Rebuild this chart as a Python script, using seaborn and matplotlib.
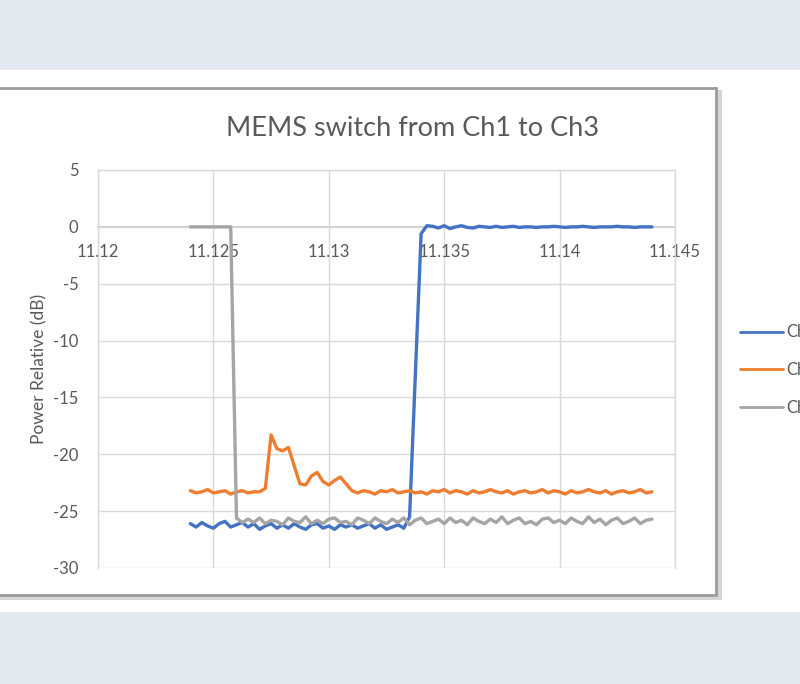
import numpy as np
import pandas as pd
import matplotlib
matplotlib.use("Agg")
import matplotlib.pyplot as plt
from matplotlib.patches import Rectangle
import seaborn as sns

# Time axis (shared by all three channels)
t = [
    11.12400, 11.12425, 11.12450, 11.12475, 11.12500, 11.12525, 11.12550, 11.12575, 11.12600, 11.12625,
    11.12650, 11.12675, 11.12700, 11.12725, 11.12750, 11.12775, 11.12800, 11.12825, 11.12850, 11.12875,
    11.12900, 11.12925, 11.12950, 11.12975, 11.13000, 11.13025, 11.13050, 11.13075, 11.13100, 11.13125,
    11.13150, 11.13175, 11.13200, 11.13225, 11.13250, 11.13275, 11.13300, 11.13325, 11.13350, 11.13375,
    11.13400, 11.13425, 11.13450, 11.13475, 11.13500, 11.13525, 11.13550, 11.13575, 11.13600, 11.13625,
    11.13650, 11.13675, 11.13700, 11.13725, 11.13750, 11.13775, 11.13800, 11.13825, 11.13850, 11.13875,
    11.13900, 11.13925, 11.13950, 11.13975, 11.14000, 11.14025, 11.14050, 11.14075, 11.14100, 11.14125,
    11.14150, 11.14175, 11.14200, 11.14225, 11.14250, 11.14275, 11.14300, 11.14325, 11.14350, 11.14375,
    11.14400,
]

# Ch1 - off, then switched on around 11.1337
ch1 = [
    -26.1, -26.4, -26.0, -26.3, -26.5, -26.1, -25.9, -26.4, -26.2, -26.0,
    -26.4, -26.1, -26.6, -26.3, -26.1, -26.5, -26.2, -26.5, -26.1, -26.4,
    -26.6, -26.2, -26.1, -26.5, -26.3, -26.6, -26.2, -26.4, -26.2, -26.5,
    -26.3, -26.1, -26.5, -26.2, -26.6, -26.4, -26.2, -26.5,
    -25.5, -13.0, -0.6, 0.1,
    0.05, -0.1, 0.1, -0.15, 0.0, 0.1, -0.05, -0.1, 0.05, 0.0,
    -0.05, 0.05, -0.05, 0.0, 0.05, -0.05, 0.0, 0.0, -0.05, 0.0,
    0.0, 0.05, 0.0, -0.05, 0.0, 0.0, 0.05, 0.0, -0.05, 0.0,
    0.0, 0.0, 0.05, 0.0, 0.0, -0.05, 0.0, 0.0, 0.0,
]

# Ch2 - crosstalk ringing during the switch
ch2 = [
    -23.2, -23.4, -23.3, -23.1, -23.4, -23.3, -23.2, -23.5, -23.3, -23.2,
    -23.4, -23.3,
    -23.3, -23.0, -18.3, -19.5, -19.7, -19.4, -21.0, -22.6, -22.7, -21.9,
    -21.6, -22.4, -22.7, -22.3, -22.0, -22.6, -23.2,
    -23.4, -23.2, -23.3, -23.5, -23.2, -23.3, -23.1, -23.4, -23.3, -23.2,
    -23.4, -23.3, -23.5, -23.2, -23.3, -23.1, -23.4, -23.2, -23.3, -23.5,
    -23.2, -23.4, -23.3, -23.1, -23.3, -23.4, -23.2, -23.5, -23.3, -23.2,
    -23.4, -23.3, -23.1, -23.4, -23.2, -23.3, -23.5, -23.2, -23.4, -23.3,
    -23.1, -23.3, -23.4, -23.2, -23.5, -23.3, -23.2, -23.4, -23.3, -23.1,
    -23.4, -23.3,
]

# Ch3 - on, then switched off around 11.1258
ch3 = [
    0.0, 0.0, 0.0, 0.0, 0.0, 0.0, 0.0, 0.0,
    -25.6, -26.0, -25.7, -26.0, -25.6, -26.1, -25.8, -25.9, -26.2, -25.6,
    -25.9, -26.0, -25.5, -26.1, -25.8, -26.1, -25.7, -25.6, -26.0, -25.9,
    -26.2, -25.6, -25.8, -26.1, -25.6, -25.9, -26.1, -25.7, -26.0, -25.6,
    -26.2, -25.8, -25.6, -26.1, -25.9, -25.7, -26.1, -25.6, -26.0, -25.8,
    -26.2, -25.6, -25.9, -26.1, -25.7, -26.0, -25.5, -26.1, -25.8, -25.6,
    -26.1, -25.9, -26.2, -25.7, -25.6, -26.0, -25.8, -26.1, -25.6, -25.9,
    -26.1, -25.5, -26.0, -25.7, -26.2, -25.8, -25.6, -26.1, -25.9, -25.6,
    -26.1, -25.8, -25.7,
]

channels = ["Ch1", "Ch2", "Ch3"]
colors = {"Ch1": "#4472C4", "Ch2": "#ED7D31", "Ch3": "#A5A5A5"}
x_ticks = [11.12, 11.125, 11.13, 11.135, 11.14, 11.145]
x_labels = ["11.12", "11.125", "11.13", "11.135", "11.14", "11.145"]
y_ticks = [-30, -25, -20, -15, -10, -5, 0, 5]

df = pd.concat([
    pd.DataFrame({"Time": t, "Power": ch1, "Channel": "Ch1"}),
    pd.DataFrame({"Time": t, "Power": ch2, "Channel": "Ch2"}),
    pd.DataFrame({"Time": t, "Power": ch3, "Channel": "Ch3"}),
])

sns.set_style("white")
plt.rcParams["font.family"] = ["Lato", "DejaVu Sans"]
plt.rcParams["axes.unicode_minus"] = False
text_col = "#595959"

fig = plt.figure(figsize=(8, 6.84), dpi=100)
fig.patch.set_facecolor("#e2e9f1")

# slide background / chart box
fig.add_artist(Rectangle((0, 1 - 612 / 684), 1, 542 / 684, transform=fig.transFigure,
                         facecolor="white", edgecolor="none", zorder=-10))
fig.add_artist(Rectangle((-0.02, 1 - 600 / 684), 0.02 + 722 / 800, 510 / 684, transform=fig.transFigure,
                         facecolor="#d6d6d6", edgecolor="none", zorder=-9))
fig.add_artist(Rectangle((-0.02, 1 - 595 / 684), 0.02 + 716 / 800, 507 / 684, transform=fig.transFigure,
                         facecolor="white", edgecolor="#9a9a9a", linewidth=2, zorder=-8))

ax = fig.add_axes([98 / 800, 1 - 568 / 684, 577 / 800, 398 / 684])
ax.set_facecolor("none")

sns.lineplot(data=df, x="Time", y="Power", hue="Channel", hue_order=channels,
             palette=colors, linewidth=2.4, ax=ax, estimator=None, sort=False)

ax.set_xlim(11.12, 11.145)
ax.set_ylim(-30, 5)
ax.set_xticks(x_ticks)
ax.set_xticklabels(x_labels)
ax.set_yticks(y_ticks)
ax.grid(True, color="#d9d9d9", linewidth=1)
ax.set_axisbelow(True)

for side in ["top", "left", "right"]:
    ax.spines[side].set_color("#d9d9d9")
    ax.spines[side].set_linewidth(1)
ax.spines["bottom"].set_position(("data", 0))
ax.spines["bottom"].set_color("#bfbfbf")
ax.spines["bottom"].set_linewidth(1.2)
ax.spines["bottom"].set_zorder(0.5)

ax.tick_params(axis="both", length=0, labelsize=12, labelcolor=text_col)
ax.tick_params(axis="x", pad=12)
ax.tick_params(axis="y", pad=14)

ax.set_xlabel("")
ax.set_ylabel("Power Relative (dB)", fontsize=12.5, color=text_col, labelpad=4)
fig.text(413 / 800, 1 - 128 / 684, "MEMS switch from Ch1 to Ch3", ha="center", va="center",
         fontsize=19.5, color=text_col)

sns.move_legend(ax, "center left", bbox_to_anchor=(725 / 800, 1 - 370 / 684),
                bbox_transform=fig.transFigure, frameon=False, title=None,
                fontsize=12, handlelength=2.6, labelspacing=1.3, handletextpad=0.2)
for txt in ax.get_legend().get_texts():
    txt.set_color(text_col)
for line in ax.get_legend().get_lines():
    line.set_linewidth(2.0)

fig.savefig("out.png", dpi=100, facecolor=fig.get_facecolor())
